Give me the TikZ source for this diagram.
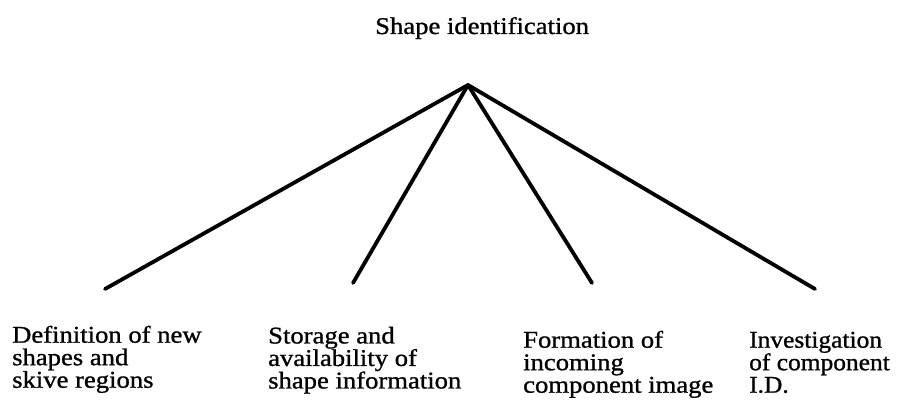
\documentclass[tikz,border=0pt]{standalone}
\usepackage{fontspec}
\setmainfont[FakeStretch=1.11,FakeBold=1]{Liberation Serif}
\newfontfamily\narrowserif[FakeStretch=1.06,FakeBold=1]{Liberation Serif}
\begin{document}
\begin{tikzpicture}[x=1pt,y=1pt,
  lbl/.style={anchor=north west,inner sep=0pt,align=left,
    font=\fontsize{24}{22.5}\selectfont},
  branch/.style={line width=3.8pt,line cap=round}]
\useasboundingbox (0,0) rectangle (897,399);
% title
\node[anchor=base west,inner sep=0pt,font=\fontsize{24}{22.5}\selectfont]
  (root) at (375,365) {Shape identification};
% apex of the tree and the free ends of its branches
\coordinate (apex) at (468,314);
\coordinate (e1) at (105,110);
\coordinate (e2) at (353,116);
\coordinate (e3) at (592,116);
\coordinate (e4) at (815,110);
\foreach \e in {e1,e2,e3,e4} \draw[branch] (apex) -- (\e);
% sub-task labels
\node[lbl] (t1) at (12,73.4) {Definition of new\\shapes and\\skive regions};
\node[lbl] (t2) at (268,72.4) {Storage and\\availability of\\shape information};
\node[lbl] (t3) at (523,68.4) {Formation of\\incoming\\component image};
\node[lbl,font=\narrowserif\fontsize{24}{22.5}\selectfont]
  (t4) at (749,67.4) {Investigation\\of component\\I.D.};
\end{tikzpicture}
\end{document}
